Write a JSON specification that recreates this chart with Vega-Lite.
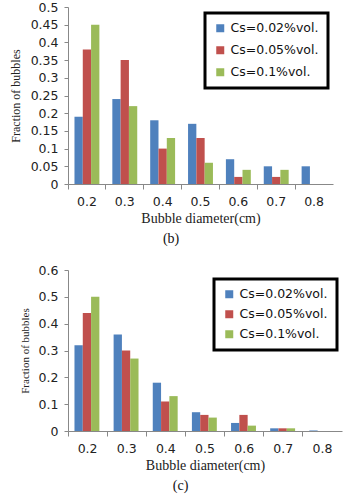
{
  "$schema": "https://vega.github.io/schema/vega-lite/v6.json",
  "padding": {"left": 9, "top": 1, "right": 2, "bottom": 2},
  "background": "white",
  "spacing": 18,
  "config": {
    "view": {"stroke": null},
    "axis": {"grid": false, "domainColor": "#888888", "tickColor": "#888888", "labelColor": "#222222", "titleColor": "#222222", "labelFont": "DejaVu Sans", "labelFontSize": 12.5, "titleFont": "Liberation Serif", "titleFontWeight": "normal"},
    "legend": {"labelFont": "DejaVu Sans", "labelFontSize": 12.5, "labelColor": "#111111", "symbolType": "square", "symbolSize": 64, "strokeColor": "black", "strokeWidth": 3, "padding": 9, "rowPadding": 7, "fillColor": "white"}
  },
  "datasets": {
    "b": [
      {"d": "0.2", "s": "Cs=0.02%vol.", "v": 0.19}, {"d": "0.2", "s": "Cs=0.05%vol.", "v": 0.38}, {"d": "0.2", "s": "Cs=0.1%vol.", "v": 0.45},
      {"d": "0.3", "s": "Cs=0.02%vol.", "v": 0.24}, {"d": "0.3", "s": "Cs=0.05%vol.", "v": 0.35}, {"d": "0.3", "s": "Cs=0.1%vol.", "v": 0.22},
      {"d": "0.4", "s": "Cs=0.02%vol.", "v": 0.18}, {"d": "0.4", "s": "Cs=0.05%vol.", "v": 0.10}, {"d": "0.4", "s": "Cs=0.1%vol.", "v": 0.13},
      {"d": "0.5", "s": "Cs=0.02%vol.", "v": 0.17}, {"d": "0.5", "s": "Cs=0.05%vol.", "v": 0.13}, {"d": "0.5", "s": "Cs=0.1%vol.", "v": 0.06},
      {"d": "0.6", "s": "Cs=0.02%vol.", "v": 0.07}, {"d": "0.6", "s": "Cs=0.05%vol.", "v": 0.02}, {"d": "0.6", "s": "Cs=0.1%vol.", "v": 0.04},
      {"d": "0.7", "s": "Cs=0.02%vol.", "v": 0.05}, {"d": "0.7", "s": "Cs=0.05%vol.", "v": 0.02}, {"d": "0.7", "s": "Cs=0.1%vol.", "v": 0.04},
      {"d": "0.8", "s": "Cs=0.02%vol.", "v": 0.05}, {"d": "0.8", "s": "Cs=0.05%vol.", "v": 0}, {"d": "0.8", "s": "Cs=0.1%vol.", "v": 0}
    ],
    "c": [
      {"d": "0.2", "s": "Cs=0.02%vol.", "v": 0.32}, {"d": "0.2", "s": "Cs=0.05%vol.", "v": 0.44}, {"d": "0.2", "s": "Cs=0.1%vol.", "v": 0.50},
      {"d": "0.3", "s": "Cs=0.02%vol.", "v": 0.36}, {"d": "0.3", "s": "Cs=0.05%vol.", "v": 0.30}, {"d": "0.3", "s": "Cs=0.1%vol.", "v": 0.27},
      {"d": "0.4", "s": "Cs=0.02%vol.", "v": 0.18}, {"d": "0.4", "s": "Cs=0.05%vol.", "v": 0.11}, {"d": "0.4", "s": "Cs=0.1%vol.", "v": 0.13},
      {"d": "0.5", "s": "Cs=0.02%vol.", "v": 0.07}, {"d": "0.5", "s": "Cs=0.05%vol.", "v": 0.06}, {"d": "0.5", "s": "Cs=0.1%vol.", "v": 0.05},
      {"d": "0.6", "s": "Cs=0.02%vol.", "v": 0.03}, {"d": "0.6", "s": "Cs=0.05%vol.", "v": 0.06}, {"d": "0.6", "s": "Cs=0.1%vol.", "v": 0.02},
      {"d": "0.7", "s": "Cs=0.02%vol.", "v": 0.01}, {"d": "0.7", "s": "Cs=0.05%vol.", "v": 0.01}, {"d": "0.7", "s": "Cs=0.1%vol.", "v": 0.01},
      {"d": "0.8", "s": "Cs=0.02%vol.", "v": 0.002}, {"d": "0.8", "s": "Cs=0.05%vol.", "v": 0}, {"d": "0.8", "s": "Cs=0.1%vol.", "v": 0}
    ]
  },
  "resolve": {"scale": {"color": "independent"}, "legend": {"color": "independent"}},
  "vconcat": [
    {
      "width": 265,
      "height": 177,
      "data": {"name": "b"},
      "title": {"text": "(b)", "orient": "bottom", "frame": "bounds", "anchor": "middle", "font": "Liberation Serif", "fontSize": 14, "fontWeight": "normal", "color": "#111111", "offset": 6},
      "mark": {"type": "bar"},
      "encoding": {
        "x": {"field": "d", "type": "nominal", "scale": {"paddingInner": 0, "paddingOuter": 0}, "axis": {"title": "Bubble diameter(cm)", "titleFontSize": 14, "labelAngle": 0, "labelPadding": 6, "bandPosition": 0, "tickSize": 5, "titlePadding": 4}},
        "xOffset": {"field": "s", "type": "nominal", "scale": {"paddingInner": 0, "paddingOuter": 0.78}},
        "y": {"field": "v", "type": "quantitative", "scale": {"domain": [0, 0.5]}, "axis": {"title": "Fraction of bubbles", "titleFontSize": 12, "values": [0, 0.05, 0.1, 0.15, 0.2, 0.25, 0.3, 0.35, 0.4, 0.45, 0.5], "format": "~g", "tickSize": 4, "labelPadding": 6, "titlePadding": 8}},
        "color": {"field": "s", "type": "nominal", "scale": {"domain": ["Cs=0.02%vol.", "Cs=0.05%vol.", "Cs=0.1%vol."], "range": ["#4F81BD", "#C0504D", "#9BBB59"]}, "legend": {"title": null, "orient": "none", "legendX": 137, "legendY": 6, "rowPadding": 9}}
      }
    },
    {
      "width": 274,
      "height": 161,
      "data": {"name": "c"},
      "title": {"text": "(c)", "orient": "bottom", "frame": "bounds", "anchor": "middle", "font": "Liberation Serif", "fontSize": 14, "fontWeight": "normal", "color": "#111111", "offset": 6},
      "mark": {"type": "bar"},
      "encoding": {
        "x": {"field": "d", "type": "nominal", "scale": {"paddingInner": 0, "paddingOuter": 0}, "axis": {"title": "Bubble diameter(cm)", "titleFontSize": 14, "labelAngle": 0, "labelPadding": 6, "bandPosition": 0, "tickSize": 5, "titlePadding": 4}},
        "xOffset": {"field": "s", "type": "nominal", "scale": {"paddingInner": 0, "paddingOuter": 0.78}},
        "y": {"field": "v", "type": "quantitative", "scale": {"domain": [0, 0.6]}, "axis": {"title": "Fraction of bubbles", "titleFontSize": 11, "values": [0, 0.1, 0.2, 0.3, 0.4, 0.5, 0.6], "format": "~g", "tickSize": 4, "labelPadding": 6, "titlePadding": 8}},
        "color": {"field": "s", "type": "nominal", "scale": {"domain": ["Cs=0.02%vol.", "Cs=0.05%vol.", "Cs=0.1%vol."], "range": ["#4F81BD", "#C0504D", "#9BBB59"]}, "legend": {"title": null, "orient": "none", "legendX": 146, "legendY": 9, "rowPadding": 7}}
      }
    }
  ]
}
